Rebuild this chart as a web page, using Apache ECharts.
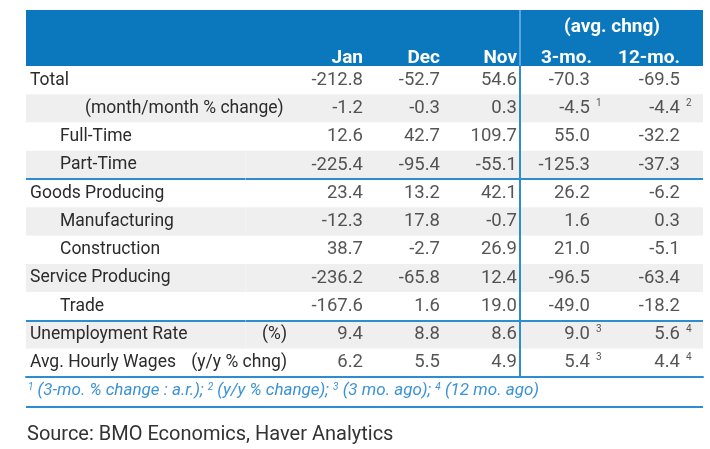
<!DOCTYPE html>
<html>
<head>
<meta charset="utf-8">
<script src="https://cdn.jsdelivr.net/npm/echarts/dist/echarts.min.js"></script>
<style>
    html, body { margin: 0; padding: 0; background: #fff; }
    #main { width: 710px; height: 449px; }
</style>
</head>
<body>
<div id="main"></div>
<script>
// 行名称 + 缩进层级 + 单位
var rowNames = ['Total', '(month/month % change)', 'Full-Time', 'Part-Time', 'Goods Producing',
    'Manufacturing', 'Construction', 'Service Producing', 'Trade', 'Unemployment Rate', 'Avg. Hourly Wages'];
var rowLevel = [0, 2, 1, 1, 0, 1, 1, 0, 1, 0, 0];
var rowUnit = ['', '', '', '', '', '', '', '', '', '(%)', '(y/y % chng)'];
// 列名称：月度 / 平均变化
var monthCols = ['Jan', 'Dec', 'Nov'];
var avgCols = ['3-mo.', '12-mo.'];
var groupTitle = '(avg. chng)';
// 每列数据
var jan = [-212.8, -1.2, 12.6, -225.4, 23.4, -12.3, 38.7, -236.2, -167.6, 9.4, 6.2];
var dec = [-52.7, -0.3, 42.7, -95.4, 13.2, 17.8, -2.7, -65.8, 1.6, 8.8, 5.5];
var nov = [54.6, 0.3, 109.7, -55.1, 42.1, -0.7, 26.9, 12.4, 19.0, 8.6, 4.9];
var mo3 = [-70.3, -4.5, 55.0, -125.3, 26.2, 1.6, 21.0, -96.5, -49.0, 9.0, 5.4];
var mo12 = [-69.5, -4.4, -32.2, -37.3, -6.2, 0.3, -5.1, -63.4, -18.2, 5.6, 4.4];
// 上标注释
var sup3 = ['', '1', '', '', '', '', '', '', '', '3', '3'];
var sup12 = ['', '2', '', '', '', '', '', '', '', '4', '4'];
var noteMarks = ['1', '2', '3', '4'];
var noteTexts = ['(3-mo. % change : a.r.); ', '(y/y % change); ', '(3 mo. ago); ', '(12 mo. ago)'];
var sourceText = 'Source: BMO Economics, Haver Analytics';

(function () {
    var font = 'Roboto';
    var textColor = '#2b2b2b';
    var blue = '#0b78be';
    var lineBlue = '#2e8dd0';
    var noteBlue = '#3b92d6';
    var stripe = ['#ffffff', '#efefef'];

    var colNames = monthCols.concat(avgCols);
    var columns = [jan, dec, nov, mo3, mo12];
    var sups = [null, null, null, sup3, sup12];
    // 每列文字右移量（数字右对齐）
    var colShift = [1.75, -12.75, -27.25, -45.75, -47.25];
    // 表头文字宽度（右对齐）
    var headWidth = [71.75, 57.25, 42.75, 26.25, 22.75];

    var headRich = {};
    headWidth.forEach(function (w, i) {
        headRich['h' + i] = { width: w, align: 'right', color: '#fff', fontWeight: 'bold', fontSize: 19, fontFamily: font };
    });

    // 行名称格式
    var rowLabel = function (val) {
        var i = rowNames.indexOf(val);
        if (rowUnit[i]) {
            return '{n|' + val + '}{u|' + rowUnit[i] + '}';
        }
        return '{l' + rowLevel[i] + '|' + val + '}';
    };
    var rowRich = {
        l0: { fontSize: 17.5, color: textColor, fontFamily: font },
        l1: { fontSize: 17.5, color: textColor, fontFamily: font, padding: [0, 0, 0, 30] },
        l2: { fontSize: 17.5, color: textColor, fontFamily: font, padding: [0, 0, 0, 55] },
        n: { fontSize: 17.5, color: textColor, fontFamily: font, width: 150 },
        u: { fontSize: 17.5, color: textColor, fontFamily: font, width: 107, align: 'right' }
    };

    var series = columns.map(function (col, c) {
        var avg = c >= monthCols.length;
        return {
            type: 'scatter',
            xAxisIndex: avg ? 3 : 1,
            yAxisIndex: avg ? 2 : 1,
            symbolSize: 1,
            itemStyle: { color: 'transparent' },
            silent: true,
            data: col.map(function (v, r) {
                return [colNames[c], rowNames[r], v, sups[c] ? sups[c][r] : ''];
            }),
            label: {
                show: true,
                position: 'inside',
                align: 'left',
                offset: [colShift[c], 0],
                formatter: function (p) {
                    var s = '{v|' + p.value[2].toFixed(1) + '}';
                    if (p.value[3]) s += '{s|' + p.value[3] + '}';
                    return s;
                },
                rich: {
                    v: { width: 70, align: 'right', fontSize: 18.5, color: textColor, fontFamily: font, lineHeight: 20 },
                    s: { fontSize: 10, align: 'right', color: textColor, fontFamily: font, padding: [0, 0, 6, 6], verticalAlign: 'top' }
                }
            }
        };
    });

    var noteStr = noteMarks.map(function (m, i) {
        return '{s|' + m + '} ' + noteTexts[i];
    }).join('');

    // 只画底线的 x 轴
    var bottomAxis = function (grid, type, data) {
        return {
            gridIndex: grid, type: type, position: 'bottom', data: data,
            axisLine: { show: true, onZero: false, lineStyle: { color: lineBlue, width: 2 } },
            axisTick: { show: false }, axisLabel: { show: false }, splitLine: { show: false }
        };
    };
    // 表头 x 轴
    var headAxis = function (grid, data, start) {
        return {
            gridIndex: grid, type: 'category', position: 'top', data: data,
            axisLine: { show: false }, axisTick: { show: false }, splitLine: { show: false },
            axisLabel: {
                interval: 0, margin: -2, align: 'left',
                formatter: function (val, i) { return '{h' + (i + start) + '|' + val + '}'; },
                rich: headRich
            }
        };
    };
    // 行 y 轴
    var rowAxis = function (grid, showLabel, showLine) {
        return {
            gridIndex: grid, type: 'category', inverse: true, data: rowNames,
            axisLine: { show: showLine, lineStyle: { color: lineBlue, width: 2 } },
            axisTick: { show: false },
            axisLabel: showLabel
                ? { inside: true, interval: 0, margin: 4, align: 'left', formatter: rowLabel, rich: rowRich }
                : { show: false },
            splitArea: { show: true, interval: 0, areaStyle: { color: stripe } },
            splitLine: {
                show: true,
                interval: function (i) { return i === 4 || i === 9; },
                lineStyle: { color: lineBlue, width: 2 }
            }
        };
    };

    var option = {
        backgroundColor: '#fff',
        animation: false,
        title: [
            {
                text: noteStr,
                left: 28,
                top: 382,
                padding: 0,
                textStyle: {
                    fontSize: 17, fontStyle: 'italic', fontWeight: 'normal', color: noteBlue, fontFamily: font,
                    rich: {
                        s: { fontSize: 10, fontStyle: 'italic', color: noteBlue, fontFamily: font, padding: [0, 0, 7, 0] }
                    }
                }
            },
            {
                text: sourceText,
                left: 27,
                top: 425,
                padding: 0,
                textStyle: { fontSize: 20, fontWeight: 'normal', color: '#333', fontFamily: font }
            }
        ],
        grid: [
            { left: 26, top: 66, width: 219.5, height: 311, outerBoundsMode: 'none' },
            { left: 245.5, top: 66, width: 274.5, height: 311, outerBoundsMode: 'none' },
            { left: 520, top: 66, width: 183, height: 311, outerBoundsMode: 'none' }
        ],
        xAxis: [
            bottomAxis(0, 'value'),
            headAxis(1, monthCols, 0),
            bottomAxis(1, 'category', monthCols),
            headAxis(2, avgCols, monthCols.length),
            bottomAxis(2, 'category', avgCols)
        ],
        yAxis: [
            rowAxis(0, true, false),
            rowAxis(1, false, false),
            rowAxis(2, false, true)
        ],
        graphic: [
            // 表头底色
            { type: 'rect', z: -10, shape: { x: 26, y: 10, width: 677, height: 56 }, style: { fill: blue } },
            // 表头分隔线
            { type: 'line', z: -5, shape: { x1: 520, y1: 10, x2: 520, y2: 66 }, style: { stroke: '#5aa7dc', lineWidth: 2 } },
            {
                type: 'text', z: 10, x: 612, y: 27,
                style: { text: groupTitle, fill: '#fff', font: 'bold 19px Roboto', textAlign: 'center', textVerticalAlign: 'middle' }
            },
            // 注释下方横线
            { type: 'line', shape: { x1: 26, y1: 407, x2: 703, y2: 407 }, style: { stroke: lineBlue, lineWidth: 2 } }
        ],
        series: series
    };

    var myechart = echarts.init(document.getElementById('main'));
    myechart.setOption(option);
})();
</script>
</body>
</html>
